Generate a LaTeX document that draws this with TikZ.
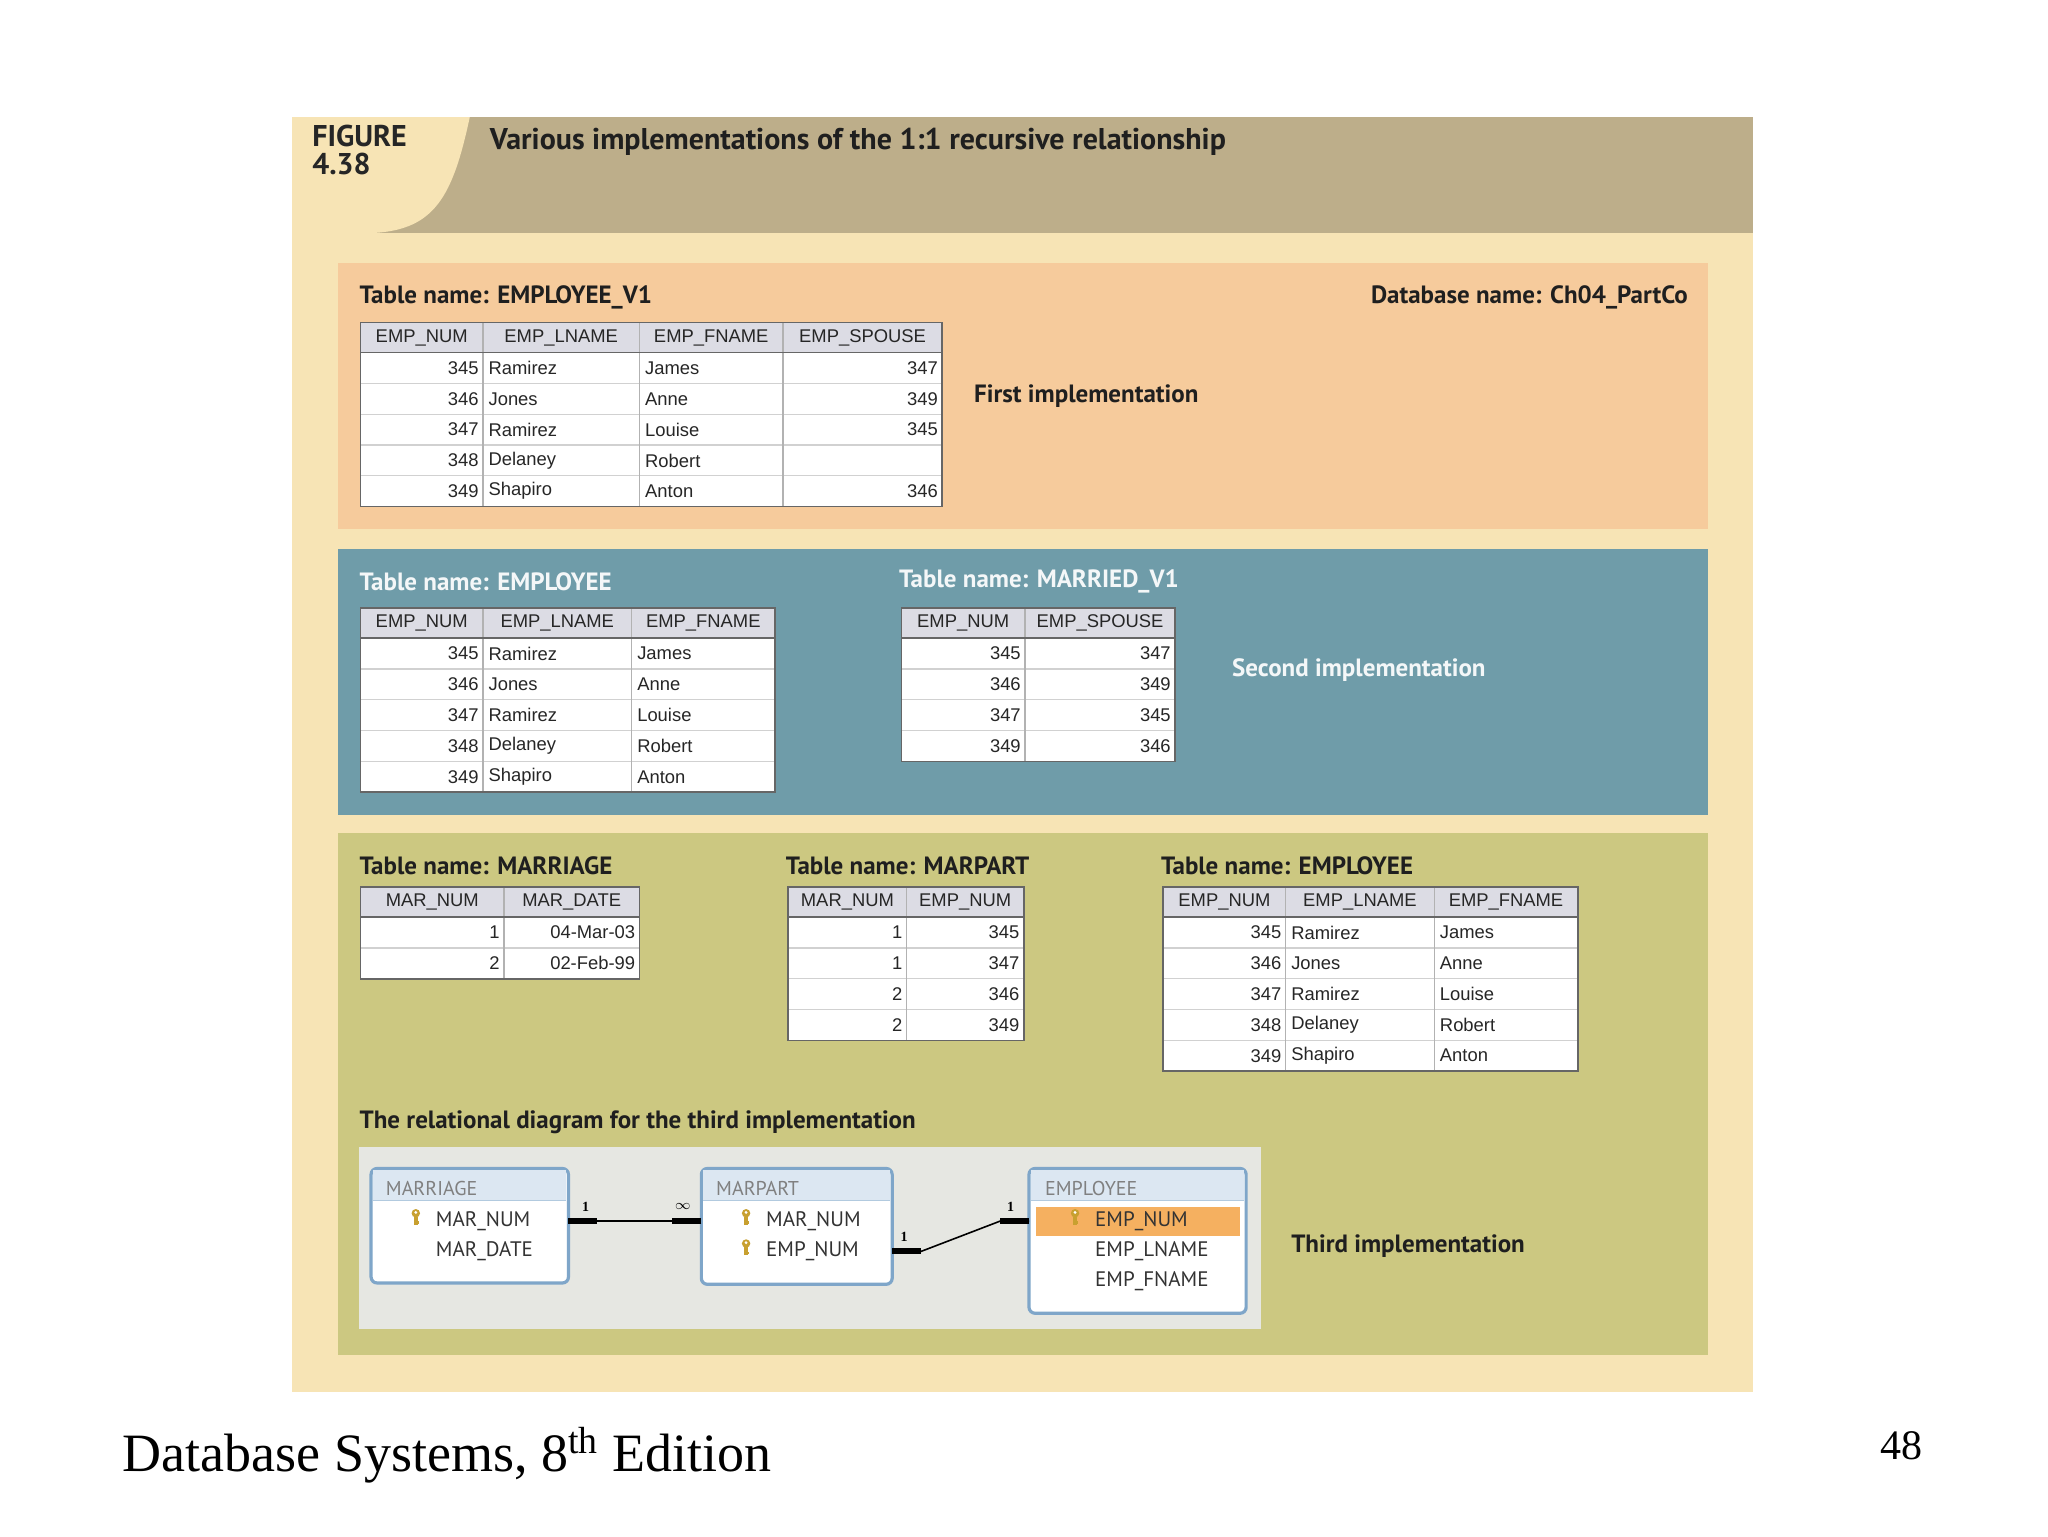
\documentclass[tikz,border=0pt]{standalone}
\usepackage{fontspec}
\usetikzlibrary{calc}
\setmainfont{Liberation Serif}
\newfontfamily\tf{Liberation Sans}
\newfontfamily\hf{PT Sans}
\definecolor{cream}{HTML}{F7E4B5}
\definecolor{tan}{HTML}{BDAE8A}
\definecolor{orng}{HTML}{F6CB9C}
\definecolor{teal}{HTML}{6F9CA9}
\definecolor{olive}{HTML}{CCC881}
\definecolor{grayb}{HTML}{E6E7E2}
\definecolor{hdrc}{HTML}{DCDCE4}
\definecolor{rbord}{HTML}{7FA6C9}
\definecolor{rtitle}{HTML}{DCE7F2}
\definecolor{keyc}{HTML}{C8A030}
\definecolor{sel}{HTML}{F5B060}
\tikzset{
 hdrfill/.style={fill=hdrc},
 rowline/.style={draw=black!18,line width=0.6pt},
 colline/.style={draw=black!30,line width=0.6pt},
 frameline/.style={draw=black!60,line width=0.8pt},
 hd/.style={font=\tf\fontsize{9.2}{10}\selectfont,text=black!85,inner sep=0pt},
 num/.style={font=\tf\fontsize{9.2}{10}\selectfont,text=black!85,anchor=east,inner sep=0pt},
 txt/.style={font=\tf\fontsize{9.2}{10}\selectfont,text=black!85,anchor=west,inner sep=0pt},
 ttl/.style={font=\hf\bfseries\fontsize{12.5}{14}\selectfont,anchor=west,inner sep=0pt,text=black!88},
 rbox/.style={draw=rbord,line width=1.6pt,fill=white,rounded corners=3pt},
 rfld/.style={font=\hf\fontsize{10.5}{12}\selectfont,anchor=west,inner sep=0pt,text=black!80},
 rhd/.style={font=\hf\fontsize{10}{12}\selectfont,anchor=west,inner sep=0pt,text=black!50},
 card/.style={font=\bfseries\fontsize{7}{8}\selectfont,inner sep=0pt},
 thick stub/.style={line width=3pt},
}
\newcommand\tframe[5]{%
 \pgfmathsetmacro\yb{#3+23+#4*23.4}%
 \fill[white] (#1,#3) rectangle (#2,\yb);
 \fill[hdrfill] (#1,#3) rectangle (#2,#3+23);
 \foreach \k in {1,...,#4} \draw[rowline] (#1,{#3+23+\k*23.4}) -- (#2,{#3+23+\k*23.4});
 \foreach \x in {#5} \draw[colline] (\x,#3) -- (\x,\yb);
 \draw[frameline] (#1,#3) rectangle (#2,\yb);
 \draw[frameline] (#1,#3+23) -- (#2,#3+23);}
\newcommand\keyicon[2]{%
 \fill[keyc] (#1,#2-3) circle (3.2);
 \fill[white] (#1,#2-3.6) circle (1.2);
 \draw[keyc,line width=1.8pt] (#1,#2) -- (#1,#2+6);
 \draw[keyc,line width=1.2pt] (#1,#2+4) -- (#1+2.5,#2+4);}
\begin{document}
\begin{tikzpicture}[x=0.658pt,y=-0.658pt]
\useasboundingbox (0,0) rectangle (1556.4,1167.3);
\fill[white] (0,0) rectangle (1556.4,1167.3);
% frame
\fill[cream] (222,89) rectangle (1332,1058);
\fill[tan] (222,89) rectangle (1332,177);
\fill[cream] (222,89) -- (357,89) .. controls (344,150) and (330,174) .. (285,177) -- (222,177) -- cycle;
\node[font=\hf\bfseries\fontsize{15}{15}\selectfont,anchor=north west,align=left,inner sep=0pt,text=black!85] (fig) at (237,95) {FIGURE\\[-1pt]4.38};
\node[font=\hf\bfseries\fontsize{15}{16}\selectfont,anchor=west,inner sep=0pt,text=black!88] (title) at (372,108) {Various implementations of the 1:1 recursive relationship};
% sections
\fill[orng] (257,200) rectangle (1298,402);
\fill[teal] (257,417) rectangle (1298,619);
\fill[olive] (257,633) rectangle (1298,1030);
% ---- section 1
\node[ttl] (t1) at (273,226) {Table name: EMPLOYEE\_V1};
\node[ttl,anchor=east] (db) at (1283,226) {Database name: Ch04\_PartCo};
\node[ttl] (i1) at (740,301) {First implementation};
\tframe{274}{716}{245}{5}{367,486,595}
\node[hd] at (320.5,256.5) {EMP\_NUM};
\node[hd] at (426.5,256.5) {EMP\_LNAME};
\node[hd] at (540.5,256.5) {EMP\_FNAME};
\node[hd] at (655.5,256.5) {EMP\_SPOUSE};
\foreach \n/\l/\f/\s [count=\i] in {345/Ramirez/James/347,346/Jones/Anne/349,347/Ramirez/Louise/345,348/Delaney/Robert/,349/Shapiro/Anton/346}{
 \pgfmathsetmacro\yy{268+(\i-0.5)*23.4}
 \node[num] at (364,\yy) {\n};
 \node[txt] at (371,\yy) {\l};
 \node[txt] at (490,\yy) {\f};
 \node[num] at (713,\yy) {\s};}
% ---- section 2
\node[ttl,text=white!92!teal] (t2) at (273,442) {Table name: EMPLOYEE};
\node[ttl,text=white!92!teal] (t3) at (683,442) {Table name: MARRIED\_V1};
\node[ttl,text=white!92!teal] (i2) at (936,509) {Second implementation};
\tframe{274}{589}{462}{5}{367,480}
\node[hd] at (320.5,473.5) {EMP\_NUM};
\node[hd] at (423.5,473.5) {EMP\_LNAME};
\node[hd] at (534.5,473.5) {EMP\_FNAME};
\foreach \n/\l/\f [count=\i] in {345/Ramirez/James,346/Jones/Anne,347/Ramirez/Louise,348/Delaney/Robert,349/Shapiro/Anton}{
 \pgfmathsetmacro\yy{485+(\i-0.5)*23.4}
 \node[num] at (364,\yy) {\n};
 \node[txt] at (371,\yy) {\l};
 \node[txt] at (484,\yy) {\f};}
\tframe{685}{893}{462}{4}{779}
\node[hd] at (732,473.5) {EMP\_NUM};
\node[hd] at (836,473.5) {EMP\_SPOUSE};
\foreach \n/\s [count=\i] in {345/347,346/349,347/345,349/346}{
 \pgfmathsetmacro\yy{485+(\i-0.5)*23.4}
 \node[num] at (776,\yy) {\n};
 \node[num] at (890,\yy) {\s};}
% ---- section 3
\node[ttl] (t4) at (273,658) {Table name: MARRIAGE};
\node[ttl] (t5) at (597,658) {Table name: MARPART};
\node[ttl] (t6) at (882,658) {Table name: EMPLOYEE};
\tframe{274}{486}{674}{2}{383}
\node[hd] at (328.5,685.5) {MAR\_NUM};
\node[hd] at (434.5,685.5) {MAR\_DATE};
\foreach \n/\d [count=\i] in {1/04-Mar-03,2/02-Feb-99}{
 \pgfmathsetmacro\yy{697+(\i-0.5)*23.4}
 \node[num] at (380,\yy) {\n};
 \node[num] at (483,\yy) {\d};}
\tframe{599}{778}{674}{4}{689}
\node[hd] at (644,685.5) {MAR\_NUM};
\node[hd] at (733.5,685.5) {EMP\_NUM};
\foreach \n/\e [count=\i] in {1/345,1/347,2/346,2/349}{
 \pgfmathsetmacro\yy{697+(\i-0.5)*23.4}
 \node[num] at (686,\yy) {\n};
 \node[num] at (775,\yy) {\e};}
\tframe{884}{1199}{674}{5}{977,1090}
\node[hd] at (930.5,685.5) {EMP\_NUM};
\node[hd] at (1033.5,685.5) {EMP\_LNAME};
\node[hd] at (1144.5,685.5) {EMP\_FNAME};
\foreach \n/\l/\f [count=\i] in {345/Ramirez/James,346/Jones/Anne,347/Ramirez/Louise,348/Delaney/Robert,349/Shapiro/Anton}{
 \pgfmathsetmacro\yy{697+(\i-0.5)*23.4}
 \node[num] at (974,\yy) {\n};
 \node[txt] at (981,\yy) {\l};
 \node[txt] at (1094,\yy) {\f};}
% relational diagram
\node[ttl] (t7) at (273,853) {The relational diagram for the third implementation};
\node[ttl] (i3) at (981,947) {Third implementation};
\fill[grayb] (273,872) rectangle (958,1010);
% boxes
\draw[rbox] (282,888) rectangle (432,975);
\fill[rtitle] (283.5,889.5) rectangle (430.5,912);
\draw[rbord!60] (283.5,912) -- (430.5,912);
\node[rhd] (bm) at (293,903) {MARRIAGE};
\keyicon{316}{925}
\node[rfld] at (331,928) {MAR\_NUM};
\node[rfld] at (331,951) {MAR\_DATE};
\draw[rbox] (533,888) rectangle (678,976);
\fill[rtitle] (534.5,889.5) rectangle (676.5,912);
\draw[rbord!60] (534.5,912) -- (676.5,912);
\node[rhd] (bp) at (544,903) {MARPART};
\keyicon{567}{925}
\keyicon{567}{948}
\node[rfld] at (582,928) {MAR\_NUM};
\node[rfld] at (582,951) {EMP\_NUM};
\draw[rbox] (782,888) rectangle (947,998);
\fill[rtitle] (783.5,889.5) rectangle (945.5,912);
\draw[rbord!60] (783.5,912) -- (945.5,912);
\fill[sel] (787,917) rectangle (942,939);
\node[rhd] (be) at (794,903) {EMPLOYEE};
\keyicon{817}{925}
\node[rfld] at (832,928) {EMP\_NUM};
\node[rfld] at (832,951) {EMP\_LNAME};
\node[rfld] at (832,974) {EMP\_FNAME};
% connectors
\coordinate (a1) at (432,928); \coordinate (a2) at (533,928);
\coordinate (b1) at (678,951); \coordinate (b2) at (782,928);
\draw[line width=0.8pt] (a1) -- (a2);
\draw[thick stub] (a1) -- ++(22,0);
\draw[thick stub] (a2) -- ++(-22,0);
\draw[line width=0.8pt] (b1) -- ++(22,0) -- ($(b2)+(-22,0)$) -- (b2);
\draw[thick stub] (b1) -- ++(22,0);
\draw[thick stub] (b2) -- ++(-22,0);
\node[card] at (445,917) {1};
\node[card] at (519,917) {$\infty$};
\node[card] at (687,940) {1};
\node[card] at (768,917) {1};
% footer
\node[font=\fontsize{27}{30}\selectfont,anchor=west,inner sep=0pt] (foot) at (93,1106) {Database Systems, 8\textsuperscript{th} Edition};
\node[font=\fontsize{21}{24}\selectfont,anchor=east,inner sep=0pt] (pg) at (1461,1099) {48};
\end{tikzpicture}
\end{document}
